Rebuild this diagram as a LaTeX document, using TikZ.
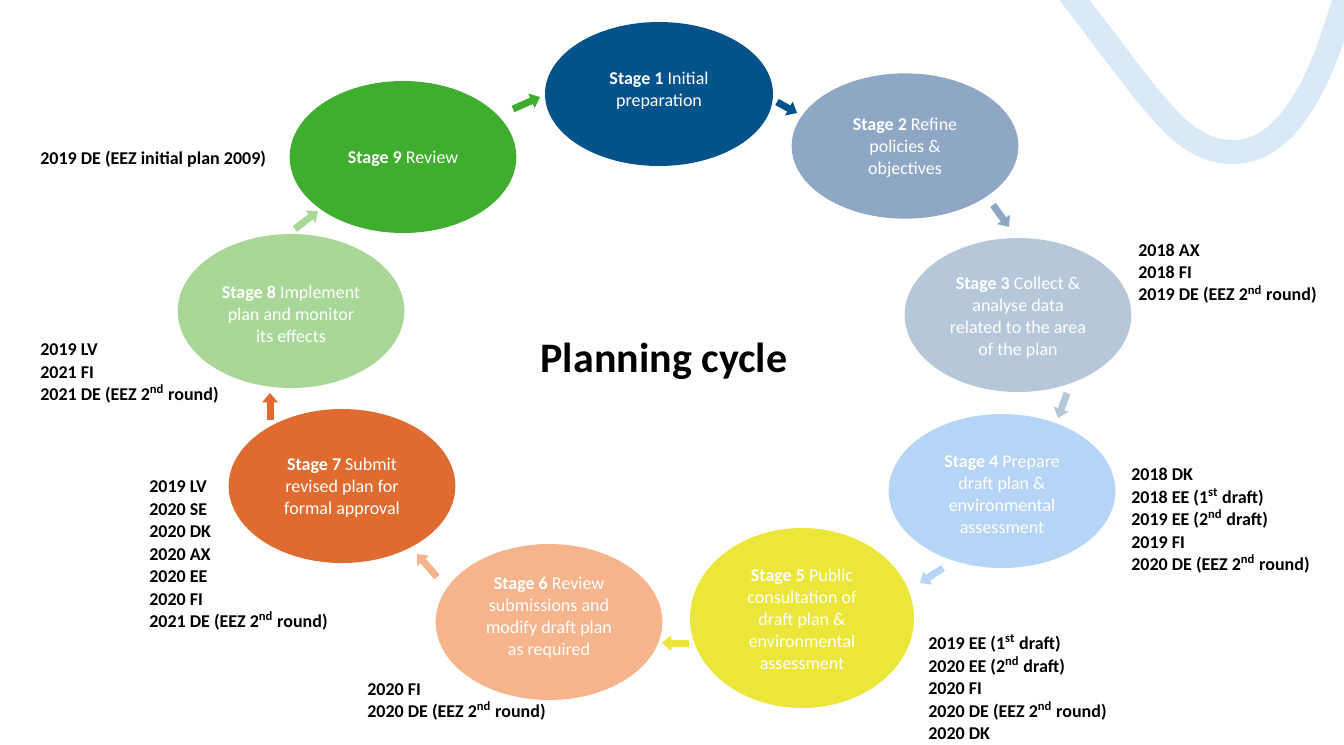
\documentclass[tikz,border=0pt]{standalone}
\usepackage{fontspec}
\setmainfont{Carlito}
\usetikzlibrary{shapes.geometric,arrows.meta}
\definecolor{cA}{RGB}{3,82,137}
\definecolor{cB}{RGB}{142,167,197}
\definecolor{cC}{RGB}{183,199,218}
\definecolor{cD}{RGB}{182,212,245}
\definecolor{cE}{RGB}{237,230,58}
\definecolor{cF}{RGB}{245,180,140}
\definecolor{cG}{RGB}{224,107,48}
\definecolor{cH}{RGB}{168,215,152}
\definecolor{cI}{RGB}{63,173,45}
\definecolor{swoosh}{RGB}{218,233,247}
\begin{document}
\begin{tikzpicture}[x=0.75pt,y=-0.75pt,
  stage/.style={ellipse, inner sep=0pt, draw=none},
  stagetext/.style={text=white, align=center, font=\fontsize{13.5}{16.5}\selectfont, inner sep=0pt, yshift=-1.5pt},
  yearlist/.style={anchor=west, align=left, font=\bfseries\fontsize{13.5}{16.85}\selectfont, inner sep=0pt, yshift=-2pt},
  cyclearrow/.style={line width=5.25pt, -{Triangle[width=11.5pt,length=7pt]}},
]
\useasboundingbox (0,0) rectangle (1344,744);
\fill[white] (0,0) rectangle (1344,744);

% decorative swoosh
\draw[swoosh, line width=18pt] (1067,-10) -- (1130,73) .. controls (1170,125) and (1195,152) .. (1233,152) .. controls (1280,152) and (1310,100) .. (1330,45) -- (1350,-15);

% stages
\node[stage, fill=cA, minimum width=171pt, minimum height=108pt] (s1) at (659,94) {};
\node[stage, fill=cB, minimum width=170pt, minimum height=109pt] (s2) at (905,146) {};
\node[stage, fill=cC, minimum width=170pt, minimum height=115.5pt] (s3) at (1018,315) {};
\node[stage, fill=cD, minimum width=170pt, minimum height=115.5pt] (s4) at (1002,491) {};
\node[stage, fill=cE, minimum width=168pt, minimum height=135pt] (s5) at (802,618) {};
\node[stage, fill=cF, minimum width=170pt, minimum height=117pt] (s6) at (549,622) {};
\node[stage, fill=cG, minimum width=170pt, minimum height=115.5pt] (s7) at (342,486) {};
\node[stage, fill=cH, minimum width=170pt, minimum height=115.5pt] (s8) at (291,311) {};
\node[stage, fill=cI, minimum width=170pt, minimum height=114pt] (s9) at (403,157) {};

\node[stagetext] (t1) at (659,89) {\textbf{Stage 1} Initial\\preparation};
\node[stagetext] (t2) at (905,146) {\textbf{Stage 2} Refine\\policies \&\\objectives};
\node[stagetext] (t3) at (1018,316) {\textbf{Stage 3} Collect \&\\analyse data\\related to the area\\of the plan};
\node[stagetext] (t4) at (1002,493) {\textbf{Stage 4} Prepare\\draft plan \&\\environmental\\assessment};
\node[stagetext] (t5) at (802,617) {\textbf{Stage 5} Public\\consultation of\\draft plan \&\\environmental\\assessment};
\node[stagetext] (t6) at (549,616) {\textbf{Stage 6} Review\\submissions and\\modify draft plan\\as required};
\node[stagetext] (t7) at (342,486) {\textbf{Stage 7} Submit\\revised plan for\\formal approval};
\node[stagetext] (t8) at (291,312) {\textbf{Stage 8} Implement\\plan and monitor\\its effects};
\node[stagetext] (t9) at (403,157) {\textbf{Stage 9} Review};

% arrows
\coordinate (a91s) at (513,109); \coordinate (a91e) at (540,97);
\coordinate (a12s) at (777,102); \coordinate (a12e) at (797,113);
\coordinate (a23s) at (993,205); \coordinate (a23e) at (1009,227);
\coordinate (a34s) at (1067,393); \coordinate (a34e) at (1058,418);
\coordinate (a45s) at (943,568); \coordinate (a45e) at (920,583);
\coordinate (a56s) at (689,643); \coordinate (a56e) at (662,643);
\coordinate (a67s) at (437,577); \coordinate (a67e) at (417,554);
\coordinate (a78s) at (270,420); \coordinate (a78e) at (270,393);
\coordinate (a89s) at (295,229); \coordinate (a89e) at (318,211);
\draw[cyclearrow, cI] (a91s) -- (a91e);
\draw[cyclearrow, cA] (a12s) -- (a12e);
\draw[cyclearrow, cB] (a23s) -- (a23e);
\draw[cyclearrow, cC] (a34s) -- (a34e);
\draw[cyclearrow, cD] (a45s) -- (a45e);
\draw[cyclearrow, cE] (a56s) -- (a56e);
\draw[cyclearrow, cF] (a67s) -- (a67e);
\draw[cyclearrow, cG] (a78s) -- (a78e);
\draw[cyclearrow, cH] (a89s) -- (a89e);

% title
\node[anchor=base, inner sep=0pt, font=\bfseries\fontsize{31.5}{38}\selectfont] (title) at (664,372) {Planning cycle};

% year lists
\node[yearlist] (l9) at (40,157) {2019 DE (EEZ initial plan 2009)};
\node[yearlist] (l3) at (1138,271) {2018 AX\\2018 FI\\2019 DE (EEZ 2\textsuperscript{nd} round)};
\node[yearlist] (l4) at (1131,518) {2018 DK\\2018 EE (1\textsuperscript{st} draft)\\2019 EE (2\textsuperscript{nd} draft)\\2019 FI\\2020 DE (EEZ 2\textsuperscript{nd} round)};
\node[yearlist] (l5) at (928,684.5) {2019 EE (1\textsuperscript{st} draft)\\2020 EE (2\textsuperscript{nd} draft)\\2020 FI\\2020 DE (EEZ 2\textsuperscript{nd} round)\\2020 DK};
\node[yearlist] (l6) at (367,699.5) {2020 FI\\2020 DE (EEZ 2\textsuperscript{nd} round)};
\node[yearlist] (l7) at (149,553) {2019 LV\\2020 SE\\2020 DK\\2020 AX\\2020 EE\\2020 FI\\2021 DE (EEZ 2\textsuperscript{nd} round)};
\node[yearlist] (l8) at (40,371) {2019 LV\\2021 FI\\2021 DE (EEZ 2\textsuperscript{nd} round)};
\end{tikzpicture}
\end{document}
